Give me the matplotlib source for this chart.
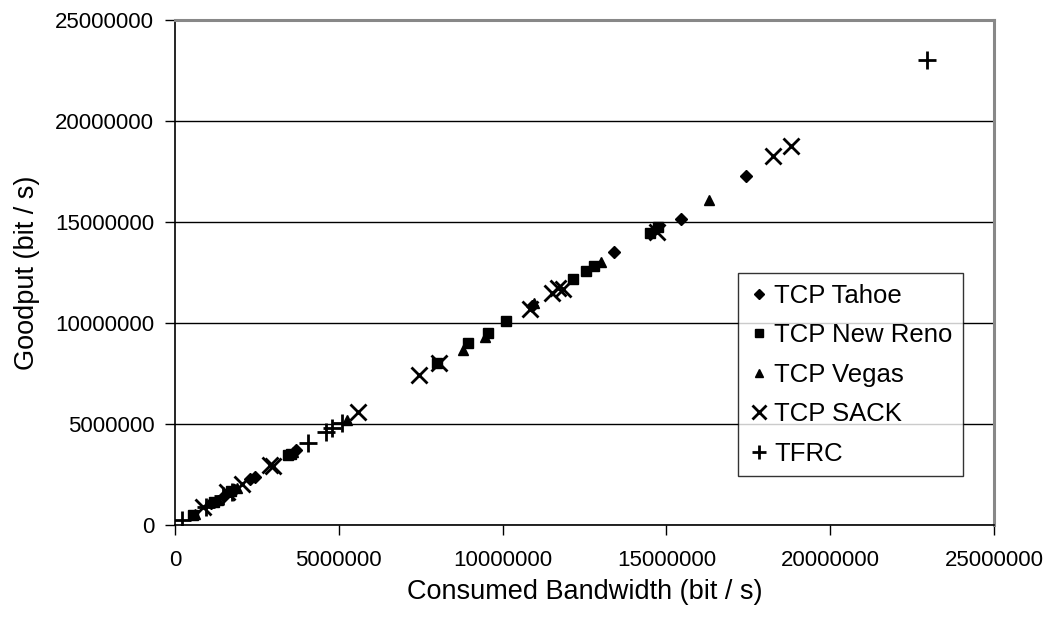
import matplotlib
matplotlib.use('Agg')
import matplotlib.pyplot as plt
from matplotlib.ticker import FuncFormatter, MultipleLocator

plt.rcParams['font.family'] = ['Liberation Sans', 'DejaVu Sans']

# consumed bandwidth / goodput pairs, in bit/s (millions)
tahoe_bw = [1.1, 1.5, 1.8, 2.3, 2.45, 3.7, 10.9, 13.4, 15.45, 17.43]
tahoe_gp = [1.1, 1.45, 1.75, 2.3, 2.4, 3.7, 10.85, 13.5, 15.14, 17.28]

newreno_bw = [0.55, 1.2, 1.7, 3.45, 3.55, 8.0, 8.95, 9.55, 10.1, 12.15, 12.55, 12.8, 14.5, 14.75]
newreno_gp = [0.5, 1.15, 1.7, 3.45, 3.5, 8.0, 9.0, 9.5, 10.1, 12.2, 12.6, 12.8, 14.45, 14.75]

vegas_bw = [0.6, 1.3, 1.9, 3.6, 5.25, 8.8, 9.45, 10.95, 13.0, 16.3]
vegas_gp = [0.55, 1.25, 1.85, 3.6, 5.2, 8.65, 9.3, 11.0, 13.0, 16.1]

sack_bw = [0.85, 1.6, 2.05, 2.9, 3.0, 5.6, 7.45, 8.05, 10.85, 11.5, 11.7, 11.85, 14.7, 18.24, 18.8]
sack_gp = [0.9, 1.65, 2.05, 2.95, 2.9, 5.6, 7.45, 8.0, 10.7, 11.5, 11.75, 11.7, 14.5, 18.27, 18.78]

tfrc_bw = [0.2, 0.95, 1.45, 1.75, 4.05, 4.6, 4.8, 5.1, 22.95]
tfrc_gp = [0.25, 0.9, 1.45, 1.65, 4.05, 4.6, 4.8, 5.05, 23.05]

M = 1e6


def scaled(vals):
    return [v * M for v in vals]


fig = plt.figure(figsize=(10.5, 6.21), dpi=100)
ax = fig.add_axes([0.1667, 0.1546, 0.78, 0.813])

series = [
    (tahoe_bw, tahoe_gp, "D", 6.5, 1.0, "TCP Tahoe"),
    (newreno_bw, newreno_gp, "s", 7, 1.0, "TCP New Reno"),
    (vegas_bw, vegas_gp, "^", 7.5, 1.0, "TCP Vegas"),
    (sack_bw, sack_gp, "x", 12, 2.0, "TCP SACK"),
    (tfrc_bw, tfrc_gp, "+", 13, 2.0, "TFRC"),
]
for bw, gp, mk, ms, mew, label in series:
    ax.plot(scaled(bw), scaled(gp), linestyle="none", marker=mk, ms=ms,
            mew=mew, color="black", label=label)

ax.set_xlim(0, 25 * M)
ax.set_ylim(0, 25 * M)
ax.xaxis.set_major_locator(MultipleLocator(5 * M))
ax.yaxis.set_major_locator(MultipleLocator(5 * M))
fmt = FuncFormatter(lambda v, p: "%d" % round(v))
ax.xaxis.set_major_formatter(fmt)
ax.yaxis.set_major_formatter(fmt)

ax.yaxis.grid(True, color="black", linewidth=1.0)
ax.set_axisbelow(True)
ax.tick_params(direction="out", length=7, width=1, labelsize=16)
ax.tick_params(axis="x", pad=11)
ax.tick_params(axis="y", pad=8)

for side in ("top", "right"):
    ax.spines[side].set_color("#888888")
    ax.spines[side].set_linewidth(2.2)
for side in ("left", "bottom"):
    ax.spines[side].set_color("black")
    ax.spines[side].set_linewidth(1.2)

ax.set_xlabel("Consumed Bandwidth (bit / s)", fontsize=19.5, labelpad=6)
ax.set_ylabel("Goodput (bit / s)", fontsize=19.5, labelpad=11)

leg = ax.legend(loc="upper left", bbox_to_anchor=(0.687, 0.499), fontsize=18.5,
                frameon=True, fancybox=False, edgecolor="black",
                handlelength=0.8, handletextpad=0.2, labelspacing=0.6,
                borderpad=0.42, borderaxespad=0, markerscale=0.8)
leg.get_frame().set_linewidth(1.0)

fig.savefig("out.png", dpi=100)
